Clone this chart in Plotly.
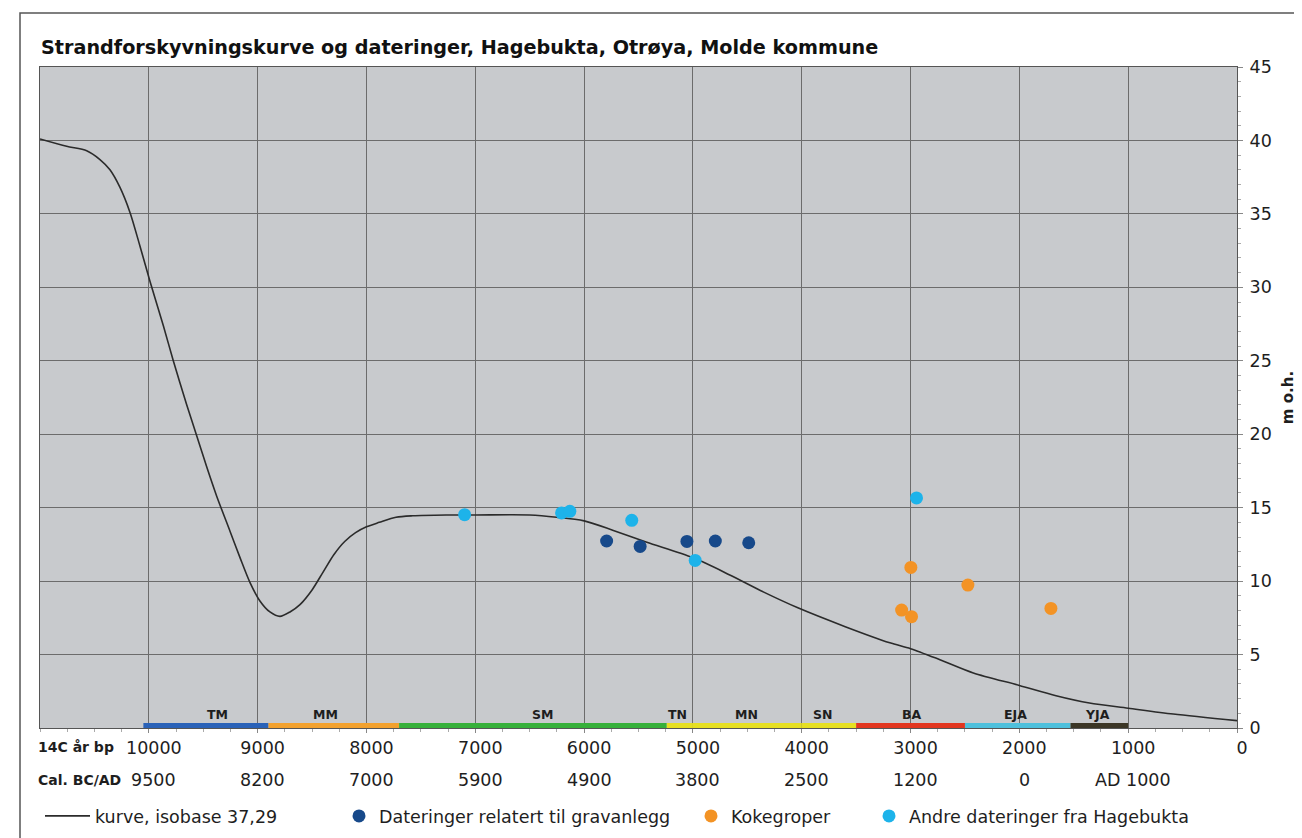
import plotly.graph_objects as go

# ---------------- data ----------------
curve_bp = [11000, 10755, 10571, 10449, 10357, 10265, 10173, 10081, 9989, 9867, 9775,
            9652, 9560, 9469, 9377, 9254, 9162, 9070, 8979, 8887, 8795, 8703, 8611,
            8500, 8400, 8300, 8200, 8100, 8000, 7882, 7728, 7574, 7267, 7000, 6499,
            6253, 6000, 5731, 5424, 5000, 4656, 4349, 4041, 3600, 3190, 3000, 2730,
            2423, 2000, 1663, 1356, 1000, 586, 0]
curve_m = [40.1, 39.6, 39.3, 38.7, 38.0, 36.8, 35.1, 32.8, 30.4, 27.4, 25.0,
           22.0, 19.9, 17.8, 15.8, 13.4, 11.6, 9.9, 8.65, 7.9, 7.6, 7.9, 8.4,
           9.4, 10.6, 11.8, 12.7, 13.3, 13.7, 14.0, 14.35, 14.45, 14.5, 14.5, 14.5,
           14.35, 14.1, 13.45, 12.65, 11.6, 10.4, 9.25, 8.2, 6.9, 5.8, 5.4, 4.65,
           3.75, 2.9, 2.2, 1.7, 1.35, 0.95, 0.5]

grav_bp = [5793, 5485, 5055, 4794, 4487]
grav_m = [12.73, 12.36, 12.70, 12.73, 12.61]

koke_bp = [2997, 2473, 3082, 2991, 1710]
koke_m = [10.93, 9.73, 8.03, 7.58, 8.14]

andre_bp = [7098, 6207, 6131, 5562, 4979, 2945]
andre_m = [14.52, 14.64, 14.75, 14.14, 11.41, 15.66]

period_names = ["TM", "MM", "SM", "TN", "MN", "SN", "BA", "EJA", "YJA"]
period_start = [10050, 8900, 7700, 5240, 5000, 4000, 3500, 2500, 1530]
period_end = [8900, 7700, 5240, 5000, 4000, 3500, 2500, 1530, 1000]
period_label_bp = [9370, 8380, 6380, 5140, 4510, 3810, 2990, 2040, 1280]
period_colors = ["#2a62b8", "#f2a12e", "#36b03a", "#e6df22", "#e6df22", "#e6df22",
                 "#e2361f", "#4dc0dc", "#3b3626"]

bp_ticks = [10000, 9000, 8000, 7000, 6000, 5000, 4000, 3000, 2000, 1000, 0]
cal_labels = ["9500", "8200", "7000", "5900", "4900", "3800", "2500", "1200", "0", "AD 1000"]
y_ticks = [0, 5, 10, 15, 20, 25, 30, 35, 40, 45]

# ---------------- layout geometry (target on-screen plot area) ----------------
W, H = 1302, 838
L, R, T, B = 40, 1237, 66, 727          # wanted screen position of the plot area
OFF = 8                                  # page offset of the figure
SQ = 0.9905                              # vertical fit factor of the page

m_l = L - OFF
m_r = W - (R - OFF)
m_t = T / SQ - OFF
m_b = H - (B / SQ - OFF)


def px_x(px):
    return (px - L) / (R - L)


def px_y(py):
    return (B - py) / (B - T)


FONT = "DejaVu Sans"
TXT = "#1e1e1e"

fig = go.Figure()

fig.add_trace(go.Scatter(
    x=curve_bp, y=curve_m, mode="lines", name="kurve, isobase 37,29",
    line=dict(color="#2b2b2b", width=1.6, shape="spline", smoothing=0.8),
    legend="legend", hoverinfo="skip"))

fig.add_trace(go.Scatter(
    x=grav_bp, y=grav_m, mode="markers", name="Dateringer relatert til gravanlegg",
    marker=dict(color="#17498a", size=13), legend="legend2"))

fig.add_trace(go.Scatter(
    x=koke_bp, y=koke_m, mode="markers", name="Kokegroper",
    marker=dict(color="#f39325", size=13), legend="legend3"))

fig.add_trace(go.Scatter(
    x=andre_bp, y=andre_m, mode="markers", name="Andre dateringer fra Hagebukta",
    marker=dict(color="#1db3ea", size=13), legend="legend4"))

shapes = []
annotations = []

# period bars along the base of the plot
for name, s, e, lx, c in zip(period_names, period_start, period_end, period_label_bp,
                             period_colors):
    shapes.append(dict(type="rect", xref="x", yref="y", x0=s, x1=e, y0=0.0, y1=0.34,
                       fillcolor=c, line=dict(width=0), layer="above"))
    annotations.append(dict(xref="x", yref="paper", x=lx, y=px_y(713),
                            text="<b>%s</b>" % name, showarrow=False,
                            font=dict(family=FONT, size=12.5, color=TXT),
                            xanchor="center", yanchor="middle"))

# outer frame
shapes.append(dict(type="rect", xref="paper", yref="paper",
                   x0=px_x(20), x1=px_x(1301), y0=px_y(12), y1=px_y(860),
                   line=dict(color="#555555", width=1.5), fillcolor="rgba(0,0,0,0)",
                   layer="below"))

# title
annotations.append(dict(xref="paper", yref="paper", x=px_x(39), y=px_y(47),
                        text="<b>Strandforskyvningskurve og dateringer, Hagebukta, Otrøya, Molde kommune</b>",
                        showarrow=False, xanchor="left", yanchor="middle",
                        font=dict(family=FONT, size=19.2, color="#111111")))

# row labels
annotations.append(dict(xref="paper", yref="paper", x=px_x(36), y=px_y(746),
                        text="<b>14C år bp</b>", showarrow=False, xanchor="left",
                        yanchor="middle", font=dict(family=FONT, size=14, color=TXT)))
annotations.append(dict(xref="paper", yref="paper", x=px_x(36), y=px_y(779),
                        text="<b>Cal. BC/AD</b>", showarrow=False, xanchor="left",
                        yanchor="middle", font=dict(family=FONT, size=14, color=TXT)))

# calibrated ages below the 14C ticks
for v, lab in zip(bp_ticks[:-1], cal_labels):
    annotations.append(dict(xref="x", yref="paper", x=v, y=px_y(779), text=lab,
                            showarrow=False, xanchor="center", yanchor="middle",
                            xshift=5, font=dict(family=FONT, size=17.5, color=TXT)))

leg_common = dict(orientation="h", y=px_y(815), xanchor="left", yanchor="middle",
                  font=dict(family=FONT, size=17.5, color=TXT), bgcolor="rgba(0,0,0,0)")

fig.update_layout(
    width=W, height=H,
    margin=dict(l=m_l, r=m_r, t=m_t, b=m_b, pad=0),
    paper_bgcolor="white",
    plot_bgcolor="#c8cacd",
    font=dict(family=FONT, size=17.5, color=TXT),
    shapes=shapes,
    annotations=annotations,
    showlegend=True,
    legend=dict(x=px_x(40), itemwidth=45, **leg_common),
    legend2=dict(x=px_x(339), **leg_common),
    legend3=dict(x=px_x(691), **leg_common),
    legend4=dict(x=px_x(869), **leg_common),
    xaxis=dict(range=[11000, 0], tickvals=bp_ticks, ticktext=[str(v) for v in bp_ticks],
               showgrid=True, gridcolor="#6c6c6c", gridwidth=1,
               showline=True, linecolor="#555555", linewidth=1, mirror=True,
               ticks="outside", ticklen=4, tickcolor="#888888",
               ticklabelshift=-5,
               minor=dict(dtick=250, ticks="outside", ticklen=3, tickcolor="#aaaaaa", showgrid=False),
               tickfont=dict(family=FONT, size=17.5, color=TXT), zeroline=False),
    yaxis=dict(range=[0, 45], side="right", tickvals=y_ticks,
               showgrid=True, gridcolor="#6c6c6c", gridwidth=1,
               showline=True, linecolor="#555555", linewidth=1, mirror=True,
               ticks="outside", ticklen=5, tickcolor="#888888", ticklabelstandoff=3,
               minor=dict(dtick=1, ticks="outside", ticklen=3, tickcolor="#aaaaaa", showgrid=False),
               tickfont=dict(family=FONT, size=17.5, color=TXT), zeroline=False,
               title=dict(text="<b>m o.h.</b>", font=dict(family=FONT, size=15, color=TXT),
                          standoff=11)),
)

fig.write_html("out.html")
